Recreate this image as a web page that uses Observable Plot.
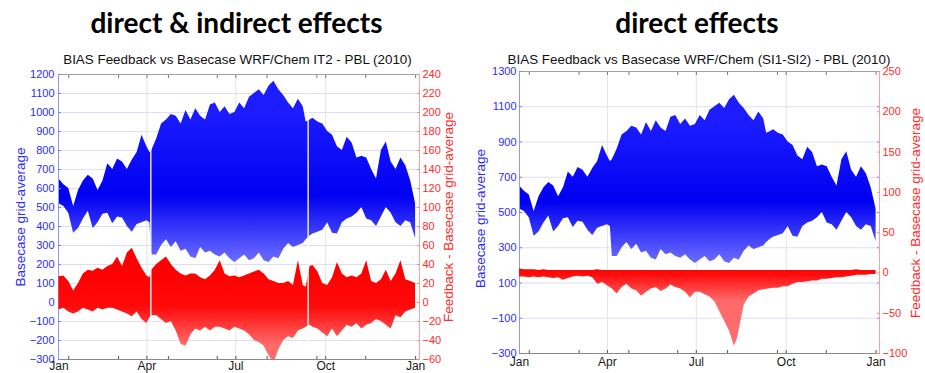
<!DOCTYPE html>
<html><head><meta charset="utf-8">
<script src="https://cdn.jsdelivr.net/npm/d3@7"></script>
<script src="https://cdn.jsdelivr.net/npm/@observablehq/plot@0.6"></script>
<style>
body{margin:0;background:#fff}
#c{position:relative;width:925px;height:373px;overflow:hidden;background:#fff}
#c svg.panel{position:absolute}
</style>
</head><body><div id="c"></div>
<script>
// ---- data (day of year 2010) ----
const blueDays = [0,5,10,15,20,25,30,35,40,45,50,55,60,65,70,75,80,85,90,93,95,100,105,110,115,120,125,130,135,140,145,150,155,160,165,170,175,180,185,190,195,200,205,210,215,220,225,230,235,240,245,250,253,257,260,265,270,275,280,285,290,295,300,305,310,315,320,325,330,335,340,345,350,355,360,365];
const blueHi = [650,620,600,505,590,640,670,650,590,640,730,700,755,740,700,750,790,880,820,790,800,860,940,960,990,980,940,1010,960,1020,980,960,1040,1050,1000,1030,990,1000,1050,1020,1080,1100,1120,1090,1140,1165,1120,1090,1050,1020,1070,1030,950,960,970,950,940,900,880,820,800,870,840,760,770,760,700,650,800,845,740,700,760,720,640,520];
const blueLo = [520,505,470,365,390,440,480,390,420,465,470,415,450,445,400,370,410,420,430,420,250,250,300,330,290,320,270,280,240,230,290,260,270,250,240,260,230,210,230,250,220,230,260,220,210,240,230,280,310,290,300,310,330,350,360,370,380,420,365,360,420,440,450,470,500,440,430,400,450,500,470,420,400,430,420,335];

// left panel (direct & indirect) feedback - basecase
const redLHi = [27,28,22,12,20,30,34,33,36,34,38,40,48,38,52,57,46,36,28,26,34,40,44,48,40,34,30,28,30,30,26,24,28,34,44,30,27,28,26,28,30,32,34,30,24,22,20,20,22,18,44,18,16,38,39,32,20,18,26,42,30,26,28,26,30,44,22,20,24,34,22,30,44,24,22,20];
const redLLo = [-8,-6,-10,-12,-10,-6,-8,-10,-6,-8,-6,-6,-8,-10,-12,-15,-10,-18,-22,-16,-14,-14,-18,-22,-20,-30,-44,-46,-34,-28,-30,-26,-30,-26,-26,-28,-30,-26,-28,-30,-34,-40,-42,-46,-56,-64,-50,-40,-36,-38,-30,-28,-26,-24,-26,-28,-32,-36,-28,-36,-30,-24,-26,-22,-28,-24,-22,-18,-20,-24,-28,-14,-16,-10,-8,-6];
const gapDays = [94, 255];

// right panel (direct) feedback - basecase
const redRDays = [0,5,10,15,20,25,30,35,40,45,50,55,60,65,70,75,80,85,90,95,100,105,110,115,120,125,130,135,140,145,150,155,160,165,170,175,180,185,190,195,200,205,210,215,220,223,225,230,235,240,245,250,255,260,265,270,275,280,285,290,295,300,305,310,315,320,325,330,335,340,345,350,355,360,365];
const redRHi = [5,4,4,4,3,4,3,3,3,3,3,3,3,3,3,3,4,3,3,3,3,3,3,3,3,3,3,3,3,3,3,3,3,3,3,3,3,3,3,3,3,3,3,3,3,3,3,3,3,3,3,3,3,3,3,3,3,3,3,3,3,3,3,3,3,3,3,3,3,3,4,3,3,3,3];
const redRLo = [-5,-5,-6,-5,-6,-5,-6,-7,-6,-9,-7,-5,-4,-5,-4,-6,-14,-12,-16,-20,-26,-18,-14,-20,-22,-29,-24,-20,-18,-23,-20,-15,-18,-20,-24,-31,-24,-24,-27,-30,-36,-48,-60,-72,-91,-82,-70,-40,-30,-26,-22,-21,-20,-19,-19,-17,-17,-14,-12,-12,-11,-10,-10,-8,-8,-7,-6,-6,-5,-4,-3,-3,-3,-2,-2];

// ticks
const monthTicks = ["2010-01-01","2010-04-01","2010-07-01","2010-10-01","2011-01-01"];
const gridMonths = ["2010-04-01","2010-07-01","2010-10-01"];
const minorTickDays = [10,61,112,162,213,264,314,365];
const leftTicksL = [-300,-200,-100,0,100,200,300,400,500,600,700,800,900,1000,1100,1200];
const rightTicksL = [-60,-40,-20,0,20,40,60,80,100,120,140,160,180,200,220,240];
const leftTicksR = [-300,-100,100,300,500,700,900,1100,1300];
const rightTicksR = [-100,-50,0,50,100,150,200,250];

const titles = ["direct & indirect effects", "direct effects"];
const subtitles = ["BIAS Feedback vs Basecase WRF/Chem IT2 - PBL (2010)", "BIAS Feedback vs Basecase WRF/Chem (SI1-SI2) - PBL (2010)"];
const yLabelBlue = "Basecase grid-average";
const yLabelRed = "Feedback - Basecase grid-average";

// ---- helpers ----
const DAY = 86400000, T0 = Date.UTC(2010, 0, 1);
const toDate = d => new Date(T0 + d * DAY);
const parse = s => new Date(s + "T00:00:00Z");
const fmt = d3.format("d");
function rows(days, hi, lo) {
  return days.map((d, i) => ({date: toDate(d), hi: hi[i], lo: lo[i]}));
}
const grad = (id, stops) => (index, scales) => {
  const defs = d3.create("svg:defs");
  const g = defs.append("linearGradient").attr("id", id).attr("gradientUnits", "userSpaceOnUse")
    .attr("x1", 0).attr("x2", 0)
    .attr("y1", scales.y(stops[0][0])).attr("y2", scales.y(stops[stops.length - 1][0]));
  const a = stops[0][0], b = stops[stops.length - 1][0];
  for (const [v, c] of stops) g.append("stop").attr("offset", (v - a) / (b - a)).attr("stop-color", c);
  return defs.node();
};

const BLUE_TXT = "#2b2bff", RED_TXT = "#ff2a2a";
const FONT = "'Liberation Sans', Arial, Helvetica, sans-serif";

function panel(cfg) {
  const common = {
    width: cfg.width, height: cfg.height,
    marginLeft: cfg.m[0], marginRight: cfg.m[1], marginTop: cfg.m[2], marginBottom: cfg.m[3],
    style: {fontFamily: FONT, fontSize: "11px", background: "transparent", overflow: "visible"}
  };
  const xs = {type: "utc", domain: cfg.xDomain, axis: null};
  const tickDates = minorTickDays.map(toDate).concat(gridMonths.map(parse));
  const blue = Plot.plot({
    ...common, x: xs, y: {domain: cfg.yBlue, axis: null},
    marks: [
      grad(cfg.id + "b", [[1000, "#1c1cff"], [560, "#0000f2"], [230, "#6767ff"]]),
      Plot.gridY(cfg.blueTicks, {stroke: "#dedef3", strokeOpacity: 1}),
      Plot.gridX(gridMonths.map(parse), {stroke: "#e3e3ea", strokeOpacity: 1}),
      Plot.areaY(cfg.blueData, {x: "date", y1: "lo", y2: "hi", fill: `url(#${cfg.id}b)`}),
      Plot.ruleY([cfg.yBlue[1]], {stroke: "#a0a0a0"}),
      Plot.ruleY([cfg.yBlue[0]], {stroke: "#8a8a8a"}),
      Plot.ruleX([cfg.xDomain[0]], {stroke: "#9595ff"}),
      Plot.axisY(cfg.blueTicks, {anchor: "left", tickSize: 0, tickPadding: cfg.padL, tickFormat: fmt, fill: BLUE_TXT, color: BLUE_TXT}),
      Plot.axisY(cfg.blueTicks, {anchor: "left", tickSize: 3, dx: 3, tickFormat: () => "", stroke: "#8080ff"}),
      Plot.axisY(cfg.blueTicks, {anchor: "right", tickSize: 3, dx: -3, tickFormat: () => "", stroke: "#8080ff"}),
      Plot.axisX(monthTicks.map(parse), {anchor: "bottom", tickSize: 0, tickPadding: cfg.padB, tickFormat: d3.utcFormat("%b"), fill: "#1a1a1a", color: "#1a1a1a", fontSize: 12}),
      Plot.axisX(tickDates, {anchor: "bottom", tickSize: 3, dy: -3, tickFormat: () => "", stroke: "#555"}),
      Plot.axisX(tickDates, {anchor: "top", tickSize: 3, dy: 3, tickFormat: () => "", stroke: "#777"})
    ]
  });
  const red = Plot.plot({
    ...common, x: xs, y: {domain: cfg.yRed, axis: null},
    marks: [
      grad(cfg.id + "r", cfg.redStops),
      Plot.areaY(cfg.redData, {x: "date", y1: "lo", y2: "hi", fill: `url(#${cfg.id}r)`, clip: true}),
      Plot.ruleX(cfg.gaps.map(toDate), {stroke: "#fff", strokeWidth: 1.3, insetTop: 1, insetBottom: 1}),
      Plot.ruleX([cfg.xDomain[1]], {stroke: "#ffa0a0"}),
      Plot.axisY(cfg.redTicks, {anchor: "right", tickSize: 0, tickPadding: cfg.padR, tickFormat: fmt, fill: RED_TXT, color: RED_TXT}),
      Plot.axisY(cfg.redTicks, {anchor: "right", tickSize: 3, dx: -3, tickFormat: () => "", stroke: "#ff8888"})
    ]
  });
  for (const s of [blue, red]) {
    s.classList.add("panel");
    s.style.left = cfg.left + "px";
    s.style.top = cfg.top + "px";
    document.getElementById("c").appendChild(s);
  }
}

panel({
  id: "L", left: 0, top: 60, width: 470, height: 313, m: [58, 51, 14, 14],
  xDomain: [new Date(T0 - 0.5 * DAY), new Date(T0 + 369 * DAY)],
  yBlue: [-300, 1200], yRed: [-60, 240], blueTicks: leftTicksL, redTicks: rightTicksL,
  blueData: rows(blueDays, blueHi, blueLo),
  redData: rows(blueDays, redLHi, redLLo),
  gaps: gapDays,
  redStops: [[30, "#ff0000"], [-5, "#ff0a0a"], [-45, "#ff6a6a"]],
  padL: 4, padR: 3, padB: 2
});
panel({
  id: "R", left: 470, top: 60, width: 455, height: 313, m: [49, 46, 11, 20],
  xDomain: [new Date(T0), new Date(T0 + 368.5 * DAY)],
  yBlue: [-300, 1300], yRed: [-100, 250], blueTicks: leftTicksR, redTicks: rightTicksR,
  blueData: rows(blueDays, blueHi, blueLo),
  redData: rows(redRDays, redRHi, redRLo),
  gaps: [],
  redStops: [[4, "#ff0000"], [-4, "#ff1010"], [-35, "#ff6a6a"]],
  padL: 3, padR: 3, padB: 4
});

// ---- titles and axis titles ----
const ov = d3.select("#c").append("svg").attr("width", 925).attr("height", 373)
  .style("position", "absolute").style("left", 0).style("top", 0).style("pointer-events", "none");
const tCfg = [[236.5, 697], [237.5, 699]];
titles.forEach((t, i) => ov.append("text").attr("x", tCfg[0][i]).attr("y", 33).attr("text-anchor", "middle")
  .attr("font-family", "Lato, 'Open Sans', sans-serif").attr("font-weight", 700).attr("font-size", 28).attr("fill", "#000").text(t));
subtitles.forEach((t, i) => ov.append("text").attr("x", tCfg[1][i]).attr("y", 63.5).attr("text-anchor", "middle")
  .attr("font-family", FONT).attr("font-size", 13.4).attr("fill", "#111").text(t));
const yl = [[20, 217, yLabelBlue, BLUE_TXT], [448, 217, yLabelRed, RED_TXT], [480, 218.5, yLabelBlue, BLUE_TXT], [915, 213, yLabelRed, RED_TXT]];
for (const [x, y, t, c] of yl) ov.append("text").attr("transform", `translate(${x},${y}) rotate(-90)`)
  .attr("text-anchor", "middle").attr("dominant-baseline", "central")
  .attr("font-family", FONT).attr("font-size", 13.5).attr("fill", c).text(t);
</script>
</body></html>
